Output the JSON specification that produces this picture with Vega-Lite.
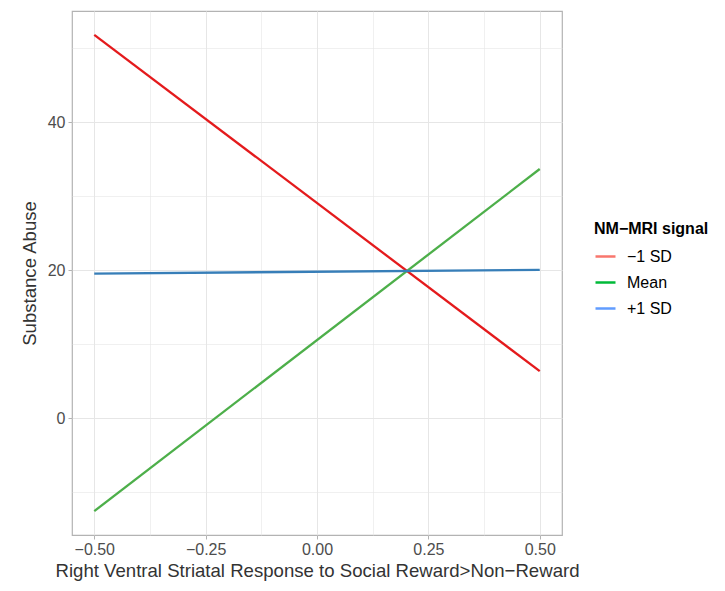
{
  "$schema": "https://vega.github.io/schema/vega-lite/v6.json",
  "autosize": {"type": "none"},
  "padding": {"left": 72, "top": 11, "right": 163, "bottom": 56},
  "width": 490,
  "height": 524,
  "background": "white",
  "config": {
    "font": "Liberation Sans",
    "view": {"stroke": "#b3b3b3", "strokeWidth": 1.2}
  },
  "data": {
    "values": [
      {"x": -0.5, "y": 51.84, "signal": "−1 SD", "line": "low"},
      {"x": 0.5, "y": 6.35, "signal": "−1 SD", "line": "low"},
      {"x": -0.5, "y": -12.57, "signal": "Mean", "line": "mean"},
      {"x": 0.5, "y": 33.69, "signal": "Mean", "line": "mean"},
      {"x": -0.5, "y": 19.55, "signal": "+1 SD", "line": "high"},
      {"x": 0.5, "y": 20.05, "signal": "+1 SD", "line": "high"}
    ]
  },
  "encoding": {
    "x": {
      "field": "x",
      "type": "quantitative",
      "scale": {"domain": [-0.55, 0.55], "nice": false, "zero": false},
      "axis": {
        "title": "Right Ventral Striatal Response to Social Reward>Non−Reward",
        "values": [-0.5, -0.375, -0.25, -0.125, 0, 0.125, 0.25, 0.375, 0.5],
        "labelExpr": "abs(datum.value*8) % 2 == 1 ? '' : replace(format(datum.value, '.2f'), '-', '−')",
        "domain": false,
        "tickSize": 4,
        "tickColor": {"condition": {"test": "abs(datum.value*8) % 2 == 1", "value": "transparent"}, "value": "#b3b3b3"},
        "gridColor": "#e6e6e6",
        "gridWidth": {"condition": {"test": "abs(datum.value*8) % 2 == 1", "value": 0.6}, "value": 1},
        "labelColor": "#4d4d4d",
        "labelFontSize": 16,
        "titleColor": "#333333",
        "titleFontSize": 18.6,
        "titleFontWeight": "normal",
        "labelPadding": 2,
        "titlePadding": 4,
        "labelFlush": false
      }
    },
    "y": {
      "field": "y",
      "type": "quantitative",
      "scale": {"domain": [-15.8, 55.06], "nice": false, "zero": false},
      "axis": {
        "title": "Substance Abuse",
        "values": [-10, 0, 10, 20, 30, 40, 50],
        "labelExpr": "datum.value % 20 == 0 ? datum.label : ''",
        "domain": false,
        "tickSize": 4,
        "tickColor": {"condition": {"test": "datum.value % 20 != 0", "value": "transparent"}, "value": "#b3b3b3"},
        "gridColor": "#e6e6e6",
        "gridWidth": {"condition": {"test": "datum.value % 20 != 0", "value": 0.6}, "value": 1},
        "labelColor": "#4d4d4d",
        "labelFontSize": 16,
        "titleColor": "#333333",
        "titleFontSize": 18.6,
        "titleFontWeight": "normal",
        "labelPadding": 3,
        "titlePadding": 8
      }
    }
  },
  "layer": [
    {
      "mark": {"type": "line", "strokeWidth": 2.3},
      "encoding": {
        "color": {
          "field": "line",
          "type": "nominal",
          "scale": {"domain": ["low", "mean", "high"], "range": ["#E41A1C", "#4DAF4A", "#377EB8"]},
          "legend": null
        }
      }
    },
    {
      "mark": {"type": "point", "opacity": 0},
      "encoding": {
        "color": {
          "field": "signal",
          "type": "nominal",
          "scale": {"domain": ["−1 SD", "Mean", "+1 SD"], "range": ["#F8766D", "#00BA38", "#619CFF"]},
          "legend": {
            "title": "NM−MRI signal",
            "orient": "none",
            "legendX": 522,
            "legendY": 210,
            "titleFontSize": 16,
            "titleFontWeight": "bold",
            "titleColor": "#000000",
            "labelFontSize": 16,
            "labelColor": "#000000",
            "labelOffset": 10,
            "symbolType": "stroke",
            "symbolStrokeWidth": 2.5,
            "symbolOpacity": 1,
            "symbolSize": 400,
            "rowPadding": 6,
            "titlePadding": 8
          }
        }
      }
    }
  ],
  "resolve": {"scale": {"color": "independent"}, "legend": {"color": "independent"}}
}
